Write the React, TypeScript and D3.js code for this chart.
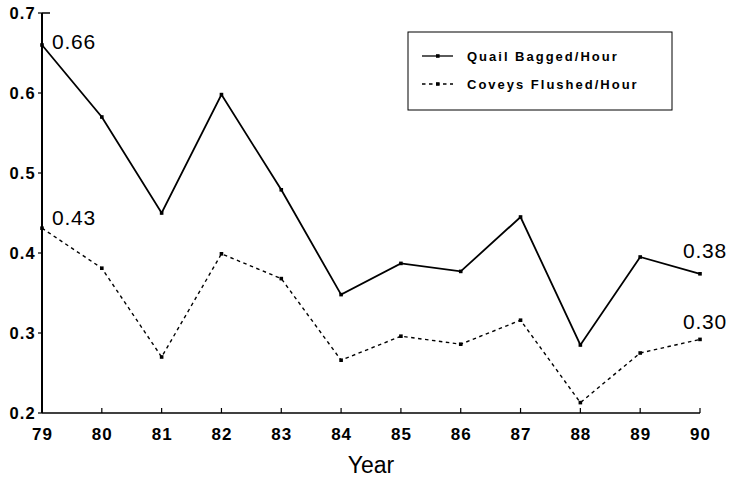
import React from "react";
import * as d3 from "d3";

const years = ["79", "80", "81", "82", "83", "84", "85", "86", "87", "88", "89", "90"];
const quailBagged = [0.66, 0.57, 0.45, 0.598, 0.479, 0.348, 0.387, 0.377, 0.445, 0.285, 0.395, 0.374];
const coveysFlushed = [0.431, 0.381, 0.27, 0.399, 0.368, 0.266, 0.296, 0.286, 0.316, 0.213, 0.275, 0.292];
const yTicks = [0.2, 0.3, 0.4, 0.5, 0.6, 0.7];
const annotations = [
  { series: "q", index: 0, text: "0.66" },
  { series: "c", index: 0, text: "0.43" },
  { series: "q", index: 11, text: "0.38" },
  { series: "c", index: 11, text: "0.30" },
];
const legendItems = [
  { label: "Quail Bagged/Hour", dash: "none" },
  { label: "Coveys Flushed/Hour", dash: "3.5,3.5" },
];

export default function App() {
  const W = 729, H = 478;
  const x = d3.scalePoint<string>().domain(years).range([42, 700]);
  const y = d3.scaleLinear().domain([0.2, 0.7]).range([413, 13]);
  const line = d3.line<number>().x((_, i) => x(years[i])!).y((d) => y(d));
  const font = "'Liberation Sans', Arial, sans-serif";

  const seriesList = [
    { key: "q", data: quailBagged, dash: "none" },
    { key: "c", data: coveysFlushed, dash: "3.5,3.5" },
  ];

  // label placement relative to the annotated point
  const annOffset: Record<string, [number, number]> = {
    "q0": [10, 4],
    "c0": [10, -3],
    "q11": [-17, -16],
    "c11": [-17, -10],
  };

  return (
    <svg width={W} height={H} style={{ position: "absolute", left: 0, top: 0, background: "#fff" }} fontFamily={font}>
      {/* axes */}
      <line x1={42} y1={13} x2={42} y2={413} stroke="#000" strokeWidth={2} />
      <line x1={42} y1={413} x2={700} y2={413} stroke="#000" strokeWidth={1.5} />
      <line x1={42} y1={13} x2={50} y2={13} stroke="#000" strokeWidth={1.5} />
      {yTicks.map((t) => (
        <g key={t}>
          <line x1={38} x2={42} y1={y(t)} y2={y(t)} stroke="#000" strokeWidth={1.2} />
          <text x={36} y={y(t)} dy="0.36em" textAnchor="end" fontSize={16.5} fontWeight="bold" letterSpacing={1.2}>
            {t.toFixed(1)}
          </text>
        </g>
      ))}
      {years.map((yr) => (
        <g key={yr}>
          <line x1={x(yr)} x2={x(yr)} y1={413} y2={408} stroke="#000" strokeWidth={1.2} />
          <text x={x(yr)! + 0.5} y={440} textAnchor="middle" fontSize={17} fontWeight="bold" letterSpacing={1}>
            {yr}
          </text>
        </g>
      ))}
      <text x={371} y={473} textAnchor="middle" fontSize={23}>Year</text>

      {/* series */}
      {seriesList.map((s) => (
        <g key={s.key}>
          <path d={line(s.data) || ""} fill="none" stroke="#000" strokeWidth={s.key === "q" ? 1.8 : 1.4} strokeDasharray={s.dash} />
          {s.data.map((v, i) => (
            <rect key={i} x={x(years[i])! - 1.8} y={y(v) - 1.8} width={3.6} height={3.6} fill="#000" />
          ))}
        </g>
      ))}

      {/* annotations */}
      {annotations.map((a) => {
        const data = a.series === "q" ? quailBagged : coveysFlushed;
        const px = x(years[a.index])!;
        const py = y(data[a.index]);
        const [dx, dy] = annOffset[a.series + a.index];
        return (
          <text key={a.text} x={px + dx} y={py + dy} fontSize={21} letterSpacing={0.8}>
            {a.text}
          </text>
        );
      })}

      {/* legend */}
      <rect x={408} y={32} width={264} height={78} fill="#fff" stroke="#000" strokeWidth={1} />
      {legendItems.map((l, i) => {
        const ly = 56 + i * 28;
        return (
          <g key={l.label}>
            <line x1={422} x2={453} y1={ly} y2={ly} stroke="#000" strokeWidth={1.3} strokeDasharray={l.dash} />
            <rect x={436} y={ly - 1.8} width={3.6} height={3.6} fill="#000" />
            <text x={467} y={ly} dy="0.36em" fontSize={13} fontWeight="bold" letterSpacing={2}>
              {l.label}
            </text>
          </g>
        );
      })}
    </svg>
  );
}
